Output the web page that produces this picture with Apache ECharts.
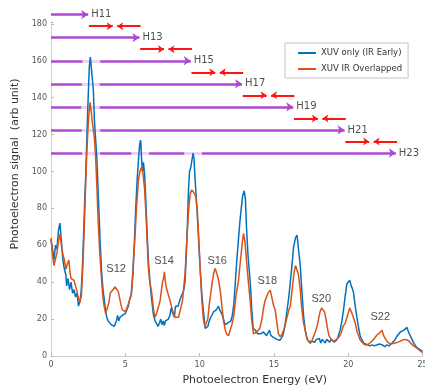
<!DOCTYPE html>
<html>
<head>
<meta charset="utf-8">
<script src="https://cdn.jsdelivr.net/npm/echarts@6/dist/echarts.min.js"></script>
<style>
  html, body { margin: 0; padding: 0; background: #fff; }
  #chart { width: 425px; height: 389px; }
</style>
</head>
<body>
<div id="chart"></div>
<script>
// photoelectron spectrum, [energy eV, signal]
var xuvOnly = [
  [0.0,63],[0.1,58],[0.2,52],[0.3,60],[0.4,58],[0.5,68],[0.6,72],[0.7,62],[0.8,52],[0.9,47],
  [1.0,44],[1.05,38],[1.15,42],[1.25,36],[1.35,40],[1.45,34],[1.55,36],[1.65,32],[1.75,34],[1.85,27],
  [1.95,30],[2.02,34],[2.1,45],[2.18,63],[2.26,82],[2.34,99],[2.42,120],[2.5,140],[2.58,157],[2.65,162],
  [2.72,163],[2.78,162],[2.85,144],[2.92,128],[2.98,120],[3.08,108],[3.19,86],[3.3,63],[3.41,45],[3.5,36],
  [3.59,30],[3.68,24],[3.75,21],[3.85,19],[3.95,18],[4.05,17],[4.15,18],[4.25,16],[4.32,15.5],[4.4,19],
  [4.48,22],[4.56,19],[4.64,21],[4.72,20],[4.8,22],[4.9,21],[5.0,23],[5.1,24],[5.2,27],[5.3,31],
  [5.4,33],[5.5,45],[5.6,60],[5.7,80],[5.8,96],[5.9,108],[5.97,115],[6.03,117],[6.1,106],[6.16,100],
  [6.22,105],[6.3,98],[6.38,84],[6.46,68],[6.55,52],[6.66,40],[6.78,30],[6.9,22],[7.0,19],[7.11,17.5],
  [7.2,16],[7.3,18],[7.38,20],[7.46,17],[7.55,19],[7.62,16.5],[7.7,19],[7.8,18],[7.9,20],[8.0,22],
  [8.08,26],[8.13,27],[8.2,23],[8.3,21],[8.38,27],[8.46,28],[8.55,27],[8.62,29],[8.7,31],[8.8,33],
  [8.91,35],[9.02,40],[9.1,55],[9.18,72],[9.25,90],[9.32,100],[9.4,102],[9.48,106],[9.56,110],[9.62,107],
  [9.7,95],[9.81,81],[9.92,65],[10.03,48],[10.15,33],[10.26,24],[10.37,15],[10.45,14],[10.55,16],[10.65,19],
  [10.75,21],[10.85,22],[10.95,24],[11.04,23],[11.12,25],[11.2,24],[11.27,27],[11.35,25],[11.42,24],[11.49,23],
  [11.6,20],[11.72,17],[11.8,16.5],[11.9,18],[12.0,17],[12.1,19],[12.2,22],[12.3,28],[12.4,40],[12.5,52],
  [12.6,62],[12.7,72],[12.8,80],[12.9,87],[13.0,89.5],[13.08,85],[13.15,70],[13.25,55],[13.35,45],[13.42,38],
  [13.5,26],[13.6,15],[13.7,14],[13.8,13.5],[13.9,12],[14.0,13],[14.1,12],[14.2,11.5],[14.3,13],[14.4,12],
  [14.5,11],[14.6,12],[14.7,14],[14.8,11],[14.9,11],[15.0,10],[15.1,9.5],[15.2,9],[15.3,9],[15.4,8.5],
  [15.5,8.7],[15.6,11],[15.7,15],[15.8,20],[15.9,26],[16.0,32],[16.1,40],[16.2,48],[16.32,59],[16.45,64],
  [16.55,65.5],[16.65,58],[16.77,49],[16.88,35],[16.99,22],[17.1,14],[17.2,10],[17.33,7.8],[17.45,8.5],[17.55,8],
  [17.65,9],[17.75,7.5],[17.85,9],[17.95,8],[18.05,9.5],[18.15,7],[18.25,9],[18.35,8],[18.45,7],[18.55,9],
  [18.65,8],[18.75,7.5],[18.85,9],[18.95,8],[19.05,7.5],[19.15,8],[19.25,9],[19.35,10],[19.45,14],[19.55,18],
  [19.68,25],[19.8,33],[19.9,39],[20.0,40],[20.1,41],[20.2,38],[20.3,36],[20.36,34],[20.45,28],[20.58,21],
  [20.7,15],[20.8,11],[20.92,8.7],[21.05,7],[21.15,6.5],[21.3,6],[21.45,5.5],[21.6,6],[21.75,5.5],[21.9,6],
  [22.0,5],[22.1,6.5],[22.2,5.5],[22.3,6],[22.45,5],[22.6,6],[22.75,5.5],[22.85,6.5],[22.94,7],[23.05,7.5],
  [23.16,9],[23.3,11],[23.4,12],[23.5,13],[23.6,12],[23.75,14],[23.85,14],[23.95,15.5],[24.05,13],[24.15,12],
  [24.29,9],[24.4,7],[24.5,6],[24.62,4.5],[24.75,4],[24.9,3],[25.0,2.5]
];

var xuvIrOverlap = [
  [0.0,64],[0.1,55],[0.2,49],[0.3,50],[0.4,56],[0.5,62],[0.6,66],[0.7,60],[0.8,55],[0.9,52],
  [1.0,47],[1.1,50],[1.2,52],[1.28,45],[1.35,42],[1.45,42],[1.55,41],[1.65,38],[1.75,35],[1.85,31],
  [1.95,29],[2.05,33],[2.15,50],[2.25,72],[2.32,90],[2.4,108],[2.48,122],[2.55,131],[2.63,137.5],[2.7,133],
  [2.76,128],[2.85,127],[2.92,118],[3.0,108],[3.08,93],[3.19,70],[3.28,56],[3.37,45],[3.45,36],[3.52,30],
  [3.6,26],[3.68,23],[3.75,25],[3.82,26],[3.9,29],[3.98,34],[4.08,35],[4.18,36],[4.3,37.5],[4.42,37.5],
  [4.52,35],[4.6,32],[4.7,28],[4.8,25],[4.9,24],[5.0,24],[5.1,26],[5.2,28],[5.3,29],[5.4,33],
  [5.5,42],[5.6,58],[5.66,66],[5.75,80],[5.88,95],[5.98,100],[6.1,102.5],[6.2,98],[6.3,90],[6.4,75],
  [6.55,48],[6.65,40],[6.78,34],[6.9,25],[7.0,21],[7.1,23],[7.23,26.7],[7.34,30],[7.42,35],[7.5,40],
  [7.57,42],[7.63,45.6],[7.7,40],[7.79,36],[7.9,35],[8.01,30],[8.1,27],[8.24,23],[8.35,21],[8.46,20.4],
  [8.58,21],[8.69,22],[8.85,30],[9.02,45],[9.12,60],[9.25,78],[9.36,88],[9.47,90],[9.55,90],[9.65,88],
  [9.75,86],[9.85,78],[9.95,62],[10.05,45],[10.15,30],[10.25,20],[10.35,16],[10.45,15],[10.55,20],[10.65,28],
  [10.75,34],[10.85,40],[10.95,45],[11.05,47.5],[11.15,47],[11.25,42],[11.38,35.7],[11.5,27],[11.6,19.5],[11.7,15],
  [11.8,12],[11.94,11],[12.05,14],[12.17,17],[12.3,22],[12.45,33],[12.6,40],[12.75,52],[12.88,62],[12.95,66.4],
  [13.05,62],[13.15,52],[13.28,40],[13.4,30],[13.5,20],[13.62,12],[13.74,12],[13.85,13],[13.95,12.5],[14.05,15],
  [14.19,20],[14.3,26],[14.4,30],[14.5,31],[14.6,34],[14.75,35.7],[14.85,32],[14.95,28],[15.08,25],[15.2,18],
  [15.3,12],[15.42,10.5],[15.55,12],[15.7,15],[15.85,20],[16.0,25],[16.1,27],[16.25,38],[16.35,45],[16.45,49],
  [16.55,49.3],[16.65,44],[16.77,35.7],[16.88,25],[16.99,18],[17.1,14],[17.25,9],[17.43,6.8],[17.55,8],[17.66,10.5],
  [17.78,13],[17.89,15.9],[18.0,20],[18.1,24],[18.2,26],[18.3,25],[18.4,24],[18.5,20],[18.6,15],[18.7,11],
  [18.85,9],[19.0,8],[19.15,8.5],[19.35,10],[19.5,12],[19.65,16],[19.8,18],[19.95,22],[20.1,26],[20.2,26.5],
  [20.3,22],[20.47,17.7],[20.6,13],[20.8,8.7],[21.03,6.5],[21.2,6],[21.37,6.5],[21.5,7],[21.6,8],[21.75,9.5],
  [21.93,11.4],[22.1,12.5],[22.27,14],[22.38,11],[22.5,9.3],[22.65,7.5],[22.83,6.5],[23.0,6.8],[23.16,7],[23.35,7.5],
  [23.6,8.5],[23.8,9],[23.95,8.7],[24.1,8],[24.2,6.8],[24.4,5.5],[24.62,4.2],[24.8,3],[25.0,1.8]
];

// harmonic arrows
var harmonicNames = ['H11', 'H13', 'H15', 'H17', 'H19', 'H21', 'H23'];
var harmonicEnergy = [2.5, 5.95, 9.4, 12.85, 16.3, 19.75, 23.2];
var harmonicLevel = [185, 172.5, 160, 147.5, 135, 122.5, 110];
var sidebandArrowLevel = [178.75, 166.25, 153.75, 141.25, 128.75, 116.25];

// sideband labels
var sidebandNames = ['S12', 'S14', 'S16', 'S18', 'S20', 'S22'];
var sidebandLabelE = [4.38, 7.6, 11.18, 14.55, 18.18, 22.15];
var sidebandLabelY = [47, 51.4, 51.4, 40.6, 30.9, 21.1];

var xTicks = [0, 5, 10, 15, 20, 25];
var yTicks = [0, 20, 40, 60, 80, 100, 120, 140, 160, 180];

var PURPLE = '#AD48D0';
var PALE = '#EDD3F3';
var RED = '#FF1414';

// purple arrows from 0 to each harmonic
var purpleLines = harmonicEnergy.map(function (e, i) {
  return { coords: [[0, harmonicLevel[i]], [e, harmonicLevel[i]]] };
});

// faded bits of the purple arrows where the peaks cross them
var paleLines = [];
harmonicLevel.forEach(function (lv, i) {
  [xuvOnly, xuvIrOverlap].forEach(function (ser) {
    var start = null;
    for (var k = 0; k <= ser.length; k++) {
      var above = k < ser.length && ser[k][1] > lv - 1.5;
      if (above && start === null) start = ser[k][0];
      if (!above && start !== null) {
        var end = ser[k - 1][0];
        var c = (start + end) / 2;
        var half = Math.max(0.6, (end - start) / 2 + 0.25);
        var a = Math.max(0, c - half), b = Math.min(harmonicEnergy[i] - 0.3, c + half);
        if (b > a) paleLines.push({ coords: [[a, lv], [b, lv]] });
        start = null;
      }
    }
  });
});

// red arrows pointing at each sideband
var redLines = [];
sidebandArrowLevel.forEach(function (lv, i) {
  var e1 = harmonicEnergy[i], e2 = harmonicEnergy[i + 1];
  var mid = (e1 + e2) / 2 + 0.08;
  redLines.push({ coords: [[e1 + 0.05, lv], [mid - 0.15, lv]] });
  redLines.push({ coords: [[e2 + 0.08, lv], [mid + 0.15, lv]] });
});

var hLabels = harmonicNames.map(function (n, i) {
  return [harmonicEnergy[i], harmonicLevel[i], n];
});
var sLabels = sidebandNames.map(function (n, i) {
  return [sidebandLabelE[i], sidebandLabelY[i], n];
});

var myChart = echarts.init(document.getElementById('chart'));

var option = {
  animation: false,
  backgroundColor: '#fff',
  grid: { left: 51, right: 2.4, top: 22, bottom: 33, containLabel: false, outerBoundsMode: 'none' },
  legend: {
    orient: 'vertical',
    left: 285,
    top: 43,
    padding: [5, 6, 4, 13],
    itemGap: 6,
    itemWidth: 18,
    itemHeight: 2,
    icon: 'rect',
    backgroundColor: '#fff',
    borderColor: '#c4c4c4',
    borderWidth: 1,
    textStyle: { fontFamily: 'DejaVu Sans', fontSize: 8.5, color: '#333', lineHeight: 10 },
    data: ['XUV only (IR Early)', 'XUV IR Overlapped']
  },
  xAxis: {
    type: 'value',
    min: 0,
    max: 25,
    interval: 5,
    name: 'Photoelectron Energy (eV)',
    nameLocation: 'middle',
    nameGap: 19,
    nameTextStyle: { fontFamily: 'DejaVu Sans', fontSize: 11, color: '#333', padding: [0, 0, 0, 36] },
    splitLine: { show: false },
    axisLine: { lineStyle: { color: '#cfcfcf', width: 1 } },
    axisTick: { inside: true, length: 3, lineStyle: { color: '#bbb' } },
    axisLabel: {
      fontFamily: 'DejaVu Sans', fontSize: 8, color: '#555', margin: 5,
      hideOverlap: false,
      customValues: xTicks
    }
  },
  yAxis: {
    type: 'value',
    min: 0,
    max: 181,
    interval: 20,
    name: 'Photoelectron signal  (arb unit)',
    nameLocation: 'middle',
    nameGap: 29,
    nameTextStyle: { fontFamily: 'DejaVu Sans', fontSize: 11, color: '#333', padding: [0, 0, 0, 50] },
    splitLine: { show: false },
    axisLine: { show: true, lineStyle: { color: '#cfcfcf', width: 1 } },
    axisTick: { show: true, inside: true, length: 3, lineStyle: { color: '#bbb' } },
    axisLabel: {
      fontFamily: 'DejaVu Sans', fontSize: 8, color: '#555', margin: 4,
      customValues: yTicks
    }
  },
  series: [
    {
      name: 'harmonics',
      type: 'lines',
      coordinateSystem: 'cartesian2d',
      clip: false,
      z: 1,
      symbol: ['none', 'arrow'],
      symbolSize: 7,
      lineStyle: { color: PURPLE, width: 2.5, opacity: 1 },
      data: purpleLines
    },
    {
      name: 'gaps',
      type: 'lines',
      coordinateSystem: 'cartesian2d',
      clip: false,
      z: 2,
      symbol: 'none',
      lineStyle: { color: PALE, width: 3, opacity: 1 },
      data: paleLines
    },
    {
      name: 'sidebands',
      type: 'lines',
      coordinateSystem: 'cartesian2d',
      clip: false,
      z: 3,
      symbol: ['none', 'arrow'],
      symbolSize: 6,
      lineStyle: { color: RED, width: 2, opacity: 1 },
      data: redLines
    },
    {
      name: 'XUV only (IR Early)',
      type: 'line',
      z: 4,
      symbol: 'none',
      lineStyle: { color: '#0072BD', width: 1.5 },
      itemStyle: { color: '#0072BD' },
      data: xuvOnly
    },
    {
      name: 'XUV IR Overlapped',
      type: 'line',
      z: 5,
      symbol: 'none',
      lineStyle: { color: '#D95319', width: 1.5 },
      itemStyle: { color: '#D95319' },
      data: xuvIrOverlap
    },
    {
      name: 'hlabels',
      type: 'scatter',
      clip: false,
      z: 6,
      symbolSize: 0,
      silent: true,
      label: {
        show: true, position: 'right', distance: 3,
        fontFamily: 'DejaVu Sans', fontSize: 10, color: '#222',
        formatter: function (p) { return p.value[2]; }
      },
      data: hLabels
    },
    {
      name: 'slabels',
      type: 'scatter',
      clip: false,
      z: 6,
      symbolSize: 0,
      silent: true,
      label: {
        show: true, position: 'inside',
        fontFamily: 'Liberation Sans', fontSize: 11, color: '#222',
        formatter: function (p) { return p.value[2]; }
      },
      data: sLabels
    }
  ]
};

myChart.setOption(option);
</script>
</body>
</html>
